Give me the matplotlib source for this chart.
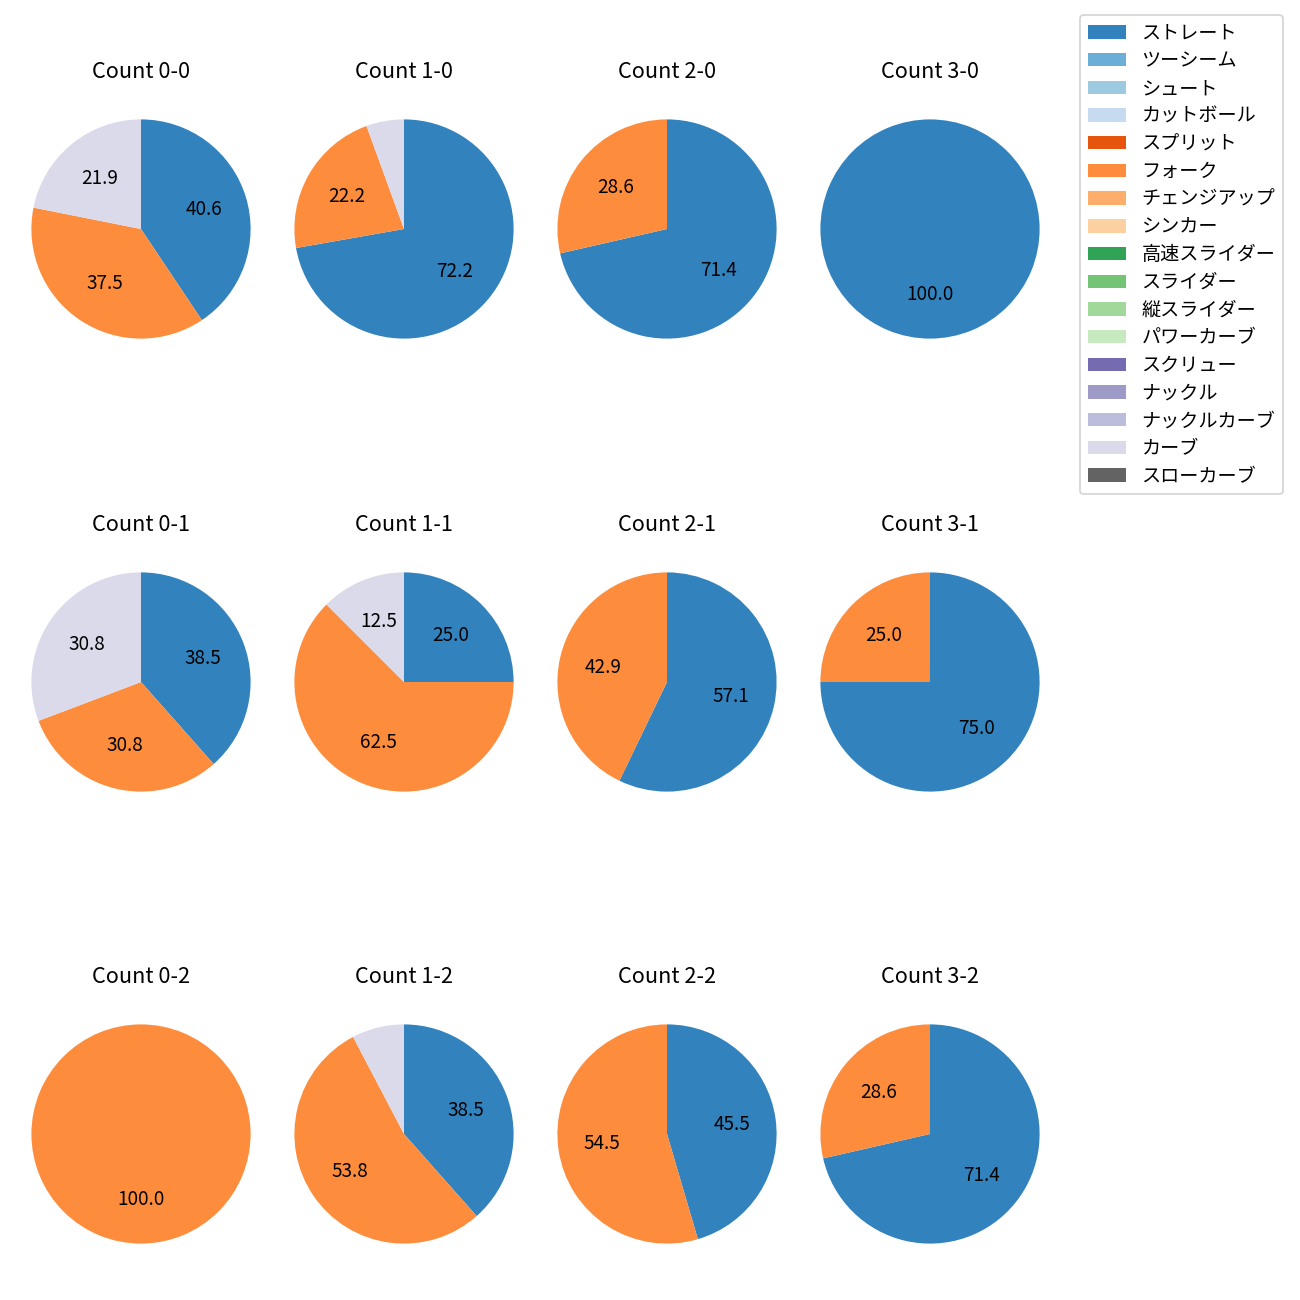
import matplotlib
matplotlib.use('Agg')
import matplotlib.pyplot as plt
from matplotlib.patches import Patch
import numpy as np

plt.rcParams['font.family'] = ['Noto Sans CJK JP', 'DejaVu Sans']

pitch_types = ['ストレート', 'ツーシーム', 'シュート', 'カットボール', 'スプリット',
               'フォーク', 'チェンジアップ', 'シンカー', '高速スライダー', 'スライダー',
               '縦スライダー', 'パワーカーブ', 'スクリュー', 'ナックル', 'ナックルカーブ',
               'カーブ', 'スローカーブ']

# count labels, row by row (strikes 0..2, balls 0..3)
counts = ['0-0', '1-0', '2-0', '3-0',
          '0-1', '1-1', '2-1', '3-1',
          '0-2', '1-2', '2-2', '3-2']

# pitches thrown per count
straight = [13, 13, 5, 1, 5, 2, 4, 3, 0, 5, 5, 5]
fork     = [12, 4, 2, 0, 4, 5, 3, 1, 1, 7, 6, 2]
curve    = [7, 1, 0, 0, 4, 1, 0, 0, 0, 1, 0, 0]

colors = plt.get_cmap('tab20c').colors[:17]
idx_straight = pitch_types.index('ストレート')
idx_fork = pitch_types.index('フォーク')
idx_curve = pitch_types.index('カーブ')

fig = plt.figure(figsize=(10, 10), dpi=130)

col_x = [141, 404, 667, 930]
row_y = [229, 682, 1134]
side = 274

for i, c in enumerate(counts):
    r, k = divmod(i, 4)
    cx = col_x[k] / 1300
    cy = 1 - row_y[r] / 1300
    s = side / 1300
    ax = fig.add_axes([cx - s / 2, cy - s / 2, s, s])
    vals = np.zeros(len(pitch_types))
    vals[idx_straight] = straight[i]
    vals[idx_fork] = fork[i]
    vals[idx_curve] = curve[i]
    keep = vals > 0
    ax.pie(vals[keep], colors=[colors[j] for j in np.where(keep)[0]],
           startangle=90, counterclock=False,
           autopct=lambda p: f'{p:.1f}' if p > 10 else '',
           textprops={'fontsize': 10.5})
    ax.set_title(f'Count {c}', pad=8)

handles = [Patch(facecolor=colors[j]) for j in range(len(pitch_types))]
fig.legend(handles, pitch_types, loc='upper right', fontsize=10.6,
           labelspacing=0.35,
           bbox_to_anchor=(1283 / 1300, 1 - 15 / 1300), borderaxespad=0)

fig.savefig('out.png', dpi=130)
